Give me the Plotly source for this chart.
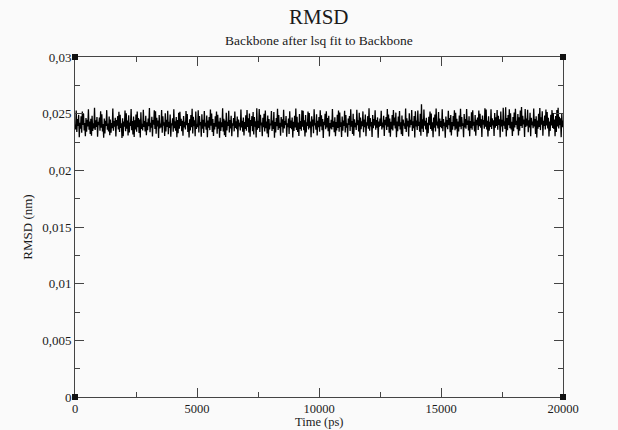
import plotly.graph_objects as go

# Sampling times of the trajectory frames (ps)
time_ps = list(range(0, 20001, 25))

# RMSD values (nm) (dense noisy band ~0.0233-0.0250, spikes to ~0.0256 / ~0.0229)
rmsd_nm = [
0.02405,0.02362,0.02528,0.02338,0.02452,0.02391,0.02489,0.02292,0.02420,0.02368,0.02476,0.02331,0.02519,0.02401,0.02498,0.02352,0.02417,0.02301,0.02462,0.02340,
0.02447,0.02388,0.02538,0.02359,0.02430,0.02321,0.02455,0.02305,0.02482,0.02347,0.02414,0.02370,0.02552,0.02356,0.02441,0.02383,0.02470,0.02296,0.02428,0.02399,
0.02466,0.02350,0.02522,0.02377,0.02494,0.02342,0.02409,0.02288,0.02458,0.02326,0.02437,0.02392,0.02531,0.02358,0.02412,0.02344,0.02474,0.02310,0.02449,0.02333,
0.02418,0.02371,0.02545,0.02349,0.02436,0.02386,0.02463,0.02299,0.02444,0.02395,0.02478,0.02361,0.02516,0.02339,0.02491,0.02374,0.02415,0.02285,0.02459,0.02302,
0.02431,0.02385,0.02527,0.02346,0.02503,0.02367,0.02440,0.02307,0.02486,0.02335,0.02421,0.02393,0.02541,0.02353,0.02434,0.02316,0.02475,0.02294,0.02442,0.02360,
0.02492,0.02341,0.02518,0.02380,0.02461,0.02329,0.02448,0.02290,0.02512,0.02366,0.02411,0.02351,0.02535,0.02384,0.02435,0.02343,0.02481,0.02309,0.02424,0.02355,
0.02456,0.02390,0.02549,0.02337,0.02419,0.02376,0.02473,0.02298,0.02445,0.02402,0.02530,0.02364,0.02521,0.02323,0.02464,0.02387,0.02439,0.02286,0.02487,0.02369,
0.02413,0.02379,0.02533,0.02332,0.02477,0.02394,0.02425,0.02303,0.02504,0.02344,0.02446,0.02383,0.02526,0.02318,0.02429,0.02375,0.02493,0.02297,0.02416,0.02398,
0.02460,0.02340,0.02539,0.02371,0.02433,0.02350,0.02471,0.02293,0.02443,0.02327,0.02509,0.02367,0.02517,0.02392,0.02454,0.02345,0.02437,0.02306,0.02480,0.02378,
0.02428,0.02361,0.02524,0.02399,0.02497,0.02339,0.02418,0.02289,0.02450,0.02352,0.02488,0.02381,0.02543,0.02325,0.02472,0.02390,0.02441,0.02300,0.02519,0.02365,
0.02410,0.02382,0.02529,0.02334,0.02479,0.02397,0.02426,0.02296,0.02495,0.02368,0.02447,0.02330,0.02523,0.02388,0.02420,0.02359,0.02483,0.02291,0.02439,0.02376,
0.02470,0.02355,0.02536,0.02393,0.02501,0.02338,0.02452,0.02304,0.02418,0.02361,0.02476,0.02385,0.02518,0.02322,0.02490,0.02367,0.02431,0.02287,0.02464,0.02348,
0.02423,0.02380,0.02547,0.02342,0.02455,0.02309,0.02440,0.02295,0.02508,0.02353,0.02429,0.02391,0.02525,0.02335,0.02443,0.02369,0.02481,0.02302,0.02416,0.02394,
0.02461,0.02344,0.02520,0.02374,0.02433,0.02362,0.02474,0.02291,0.02449,0.02387,0.02419,0.02351,0.02537,0.02379,0.02437,0.02340,0.02466,0.02308,0.02427,0.02365,
0.02485,0.02350,0.02532,0.02383,0.02459,0.02333,0.02502,0.02297,0.02444,0.02392,0.02478,0.02346,0.02514,0.02317,0.02471,0.02386,0.02432,0.02289,0.02547,0.02358,
0.02438,0.02375,0.02540,0.02339,0.02490,0.02396,0.02421,0.02301,0.02463,0.02381,0.02499,0.02343,0.02528,0.02371,0.02430,0.02326,0.02484,0.02293,0.02453,0.02360,
0.02412,0.02397,0.02523,0.02348,0.02439,0.02366,0.02514,0.02288,0.02426,0.02335,0.02461,0.02390,0.02544,0.02356,0.02488,0.02373,0.02419,0.02305,0.02470,0.02384,
0.02451,0.02331,0.02534,0.02369,0.02434,0.02400,0.02479,0.02296,0.02415,0.02382,0.02457,0.02320,0.02521,0.02374,0.02440,0.02362,0.02466,0.02290,0.02428,0.02347,
0.02482,0.02378,0.02546,0.02357,0.02473,0.02338,0.02421,0.02303,0.02497,0.02366,0.02436,0.02349,0.02530,0.02385,0.02525,0.02353,0.02442,0.02298,0.02489,0.02334,
0.02424,0.02393,0.02519,0.02361,0.02506,0.02376,0.02431,0.02292,0.02477,0.02388,0.02449,0.02327,0.02538,0.02397,0.02417,0.02358,0.02494,0.02307,0.02437,0.02381,
0.02471,0.02340,0.02531,0.02387,0.02485,0.02355,0.02452,0.02286,0.02429,0.02399,0.02500,0.02363,0.02522,0.02379,0.02462,0.02346,0.02481,0.02299,0.02418,0.02370,
0.02446,0.02360,0.02542,0.02383,0.02432,0.02337,0.02468,0.02302,0.02427,0.02352,0.02490,0.02373,0.02527,0.02341,0.02511,0.02384,0.02423,0.02294,0.02475,0.02349,
0.02439,0.02392,0.02526,0.02333,0.02487,0.02377,0.02416,0.02297,0.02458,0.02401,0.02479,0.02347,0.02539,0.02386,0.02434,0.02321,0.02499,0.02306,0.02450,0.02380,
0.02420,0.02356,0.02535,0.02398,0.02441,0.02343,0.02507,0.02290,0.02465,0.02362,0.02433,0.02389,0.02520,0.02336,0.02448,0.02381,0.02493,0.02301,0.02425,0.02395,
0.02478,0.02367,0.02548,0.02350,0.02461,0.02388,0.02426,0.02295,0.02489,0.02371,0.02453,0.02396,0.02529,0.02358,0.02444,0.02376,0.02467,0.02288,0.02430,0.02384,
0.02456,0.02391,0.02525,0.02360,0.02422,0.02378,0.02481,0.02304,0.02447,0.02399,0.02470,0.02357,0.02541,0.02385,0.02492,0.02331,0.02458,0.02296,0.02429,0.02364,
0.02487,0.02352,0.02533,0.02397,0.02466,0.02370,0.02509,0.02291,0.02431,0.02346,0.02475,0.02390,0.02524,0.02361,0.02424,0.02318,0.02483,0.02303,0.02449,0.02394,
0.02414,0.02366,0.02546,0.02339,0.02460,0.02388,0.02438,0.02299,0.02504,0.02379,0.02445,0.02400,0.02532,0.02348,0.02433,0.02372,0.02480,0.02289,0.02521,0.02387,
0.02440,0.02356,0.02528,0.02393,0.02428,0.02341,0.02499,0.02305,0.02583,0.02367,0.02451,0.02338,0.02537,0.02395,0.02437,0.02360,0.02463,0.02297,0.02419,0.02327,
0.02473,0.02398,0.02519,0.02365,0.02501,0.02350,0.02425,0.02293,0.02467,0.02376,0.02492,0.02342,0.02545,0.02396,0.02430,0.02369,0.02515,0.02302,0.02457,0.02382,
0.02435,0.02371,0.02538,0.02346,0.02452,0.02392,0.02421,0.02287,0.02474,0.02380,0.02443,0.02363,0.02526,0.02399,0.02462,0.02337,0.02488,0.02308,0.02426,0.02358,
0.02479,0.02389,0.02530,0.02354,0.02508,0.02368,0.02455,0.02296,0.02431,0.02343,0.02483,0.02385,0.02543,0.02362,0.02471,0.02393,0.02416,0.02292,0.02497,0.02378,
0.02453,0.02367,0.02541,0.02400,0.02440,0.02351,0.02476,0.02300,0.02435,0.02372,0.02512,0.02359,0.02529,0.02395,0.02429,0.02344,0.02487,0.02306,0.02446,0.02398,
0.02466,0.02356,0.02527,0.02390,0.02499,0.02377,0.02451,0.02294,0.02484,0.02402,0.02443,0.02368,0.02548,0.02385,0.02536,0.02361,0.02437,0.02299,0.02478,0.02349,
0.02428,0.02383,0.02539,0.02364,0.02459,0.02397,0.02441,0.02303,0.02505,0.02375,0.02467,0.02392,0.02533,0.02358,0.02482,0.02401,0.02450,0.02291,0.02519,0.02387,
0.02447,0.02340,0.02551,0.02394,0.02432,0.02366,0.02556,0.02298,0.02462,0.02353,0.02489,0.02398,0.02538,0.02371,0.02503,0.02360,0.02428,0.02304,0.02471,0.02345,
0.02511,0.02378,0.02544,0.02400,0.02438,0.02363,0.02496,0.02307,0.02469,0.02350,0.02527,0.02392,0.02559,0.02374,0.02481,0.02405,0.02449,0.02295,0.02540,0.02383,
0.02458,0.02394,0.02534,0.02336,0.02442,0.02379,0.02507,0.02301,0.02464,0.02399,0.02431,0.02372,0.02546,0.02388,0.02453,0.02321,0.02476,0.02290,0.02439,0.02368,
0.02498,0.02382,0.02549,0.02355,0.02468,0.02403,0.02522,0.02306,0.02437,0.02391,0.02484,0.02360,0.02537,0.02395,0.02515,0.02370,0.02463,0.02298,0.02431,0.02348,
0.02490,0.02397,0.02531,0.02374,0.02505,0.02365,0.02448,0.02302,0.02479,0.02338,0.02533,0.02386,0.02553,0.02369,0.02472,0.02399,0.02459,0.02293,0.02496,0.02380,
0.02440,
]

x_tickvals = [0, 5000, 10000, 15000, 20000]
x_ticktext = ["0", "5000", "10000", "15000", "20000"]
y_tickvals = [0, 0.005, 0.01, 0.015, 0.02, 0.025, 0.03]
y_ticktext = ["0", "0,005", "0,01", "0,015", "0,02", "0,025", "0,03"]

title_text = "RMSD"
subtitle_text = "Backbone after lsq fit to Backbone"
x_title = "Time (ps)"
y_title = "RMSD (nm)"

FONT = "Liberation Serif, Times New Roman, serif"
BG = "#fafafa"
INK = "#1a1a1a"

fig = go.Figure()
fig.add_trace(go.Scatter(
    x=time_ps, y=rmsd_nm, mode="lines",
    line=dict(color="black", width=1.3),
    showlegend=False, hoverinfo="skip",
))

axis_common = dict(
    showgrid=False, zeroline=False, showline=True, linecolor="#444", linewidth=1,
    mirror="ticks", ticks="inside", ticklen=9, tickcolor="#444", tickwidth=1,
)

fig.update_xaxes(
    range=[0, 20000], tickmode="array", tickvals=x_tickvals, ticktext=x_ticktext,
    minor=dict(ticks="inside", ticklen=5, dtick=2500, tick0=0, tickcolor="#444"),
    tickfont=dict(family=FONT, size=12.5, color=INK), ticklabelstandoff=0,
    **axis_common,
)
fig.update_yaxes(
    range=[0, 0.03], tickmode="array", tickvals=y_tickvals, ticktext=y_ticktext,
    minor=dict(ticks="inside", ticklen=5, dtick=0.0025, tick0=0, tickcolor="#444"),
    tickfont=dict(family=FONT, size=13, color=INK),
    title=dict(text=y_title, font=dict(family=FONT, size=13, color=INK), standoff=6),
    **axis_common,
)

# small black squares at the frame corners
for cx in (0, 1):
    for cy in (0, 1):
        fig.add_shape(type="rect", xref="x domain", yref="y domain",
                      xsizemode="pixel", ysizemode="pixel",
                      xanchor=cx, yanchor=cy, x0=-3, x1=3, y0=-3, y1=3,
                      fillcolor="#111", line=dict(width=0), layer="above")

fig.add_annotation(text=title_text, xref="paper", yref="paper", x=0.5, y=1,
                   yshift=40, showarrow=False, xanchor="center", yanchor="middle",
                   font=dict(family=FONT, size=21, color=INK))
fig.add_annotation(text=subtitle_text, xref="paper", yref="paper", x=0.5, y=1,
                   yshift=17, showarrow=False, xanchor="center", yanchor="middle",
                   font=dict(family=FONT, size=13.5, color=INK))
# x-axis title placed as an annotation just below the tick labels
fig.add_annotation(text=x_title, xref="paper", yref="paper", x=0.5, y=0,
                   yshift=-25, showarrow=False, xanchor="center", yanchor="middle",
                   font=dict(family=FONT, size=12.5, color=INK))

fig.update_layout(
    width=618, height=430,
    margin=dict(l=75, r=55, t=57, b=33, autoexpand=False),
    paper_bgcolor=BG, plot_bgcolor=BG,
    font=dict(family=FONT, color=INK),
)

fig.write_html("out.html", config={"displayModeBar": False},
               post_script="document.body.style.margin='0';document.body.style.overflow='hidden';")
